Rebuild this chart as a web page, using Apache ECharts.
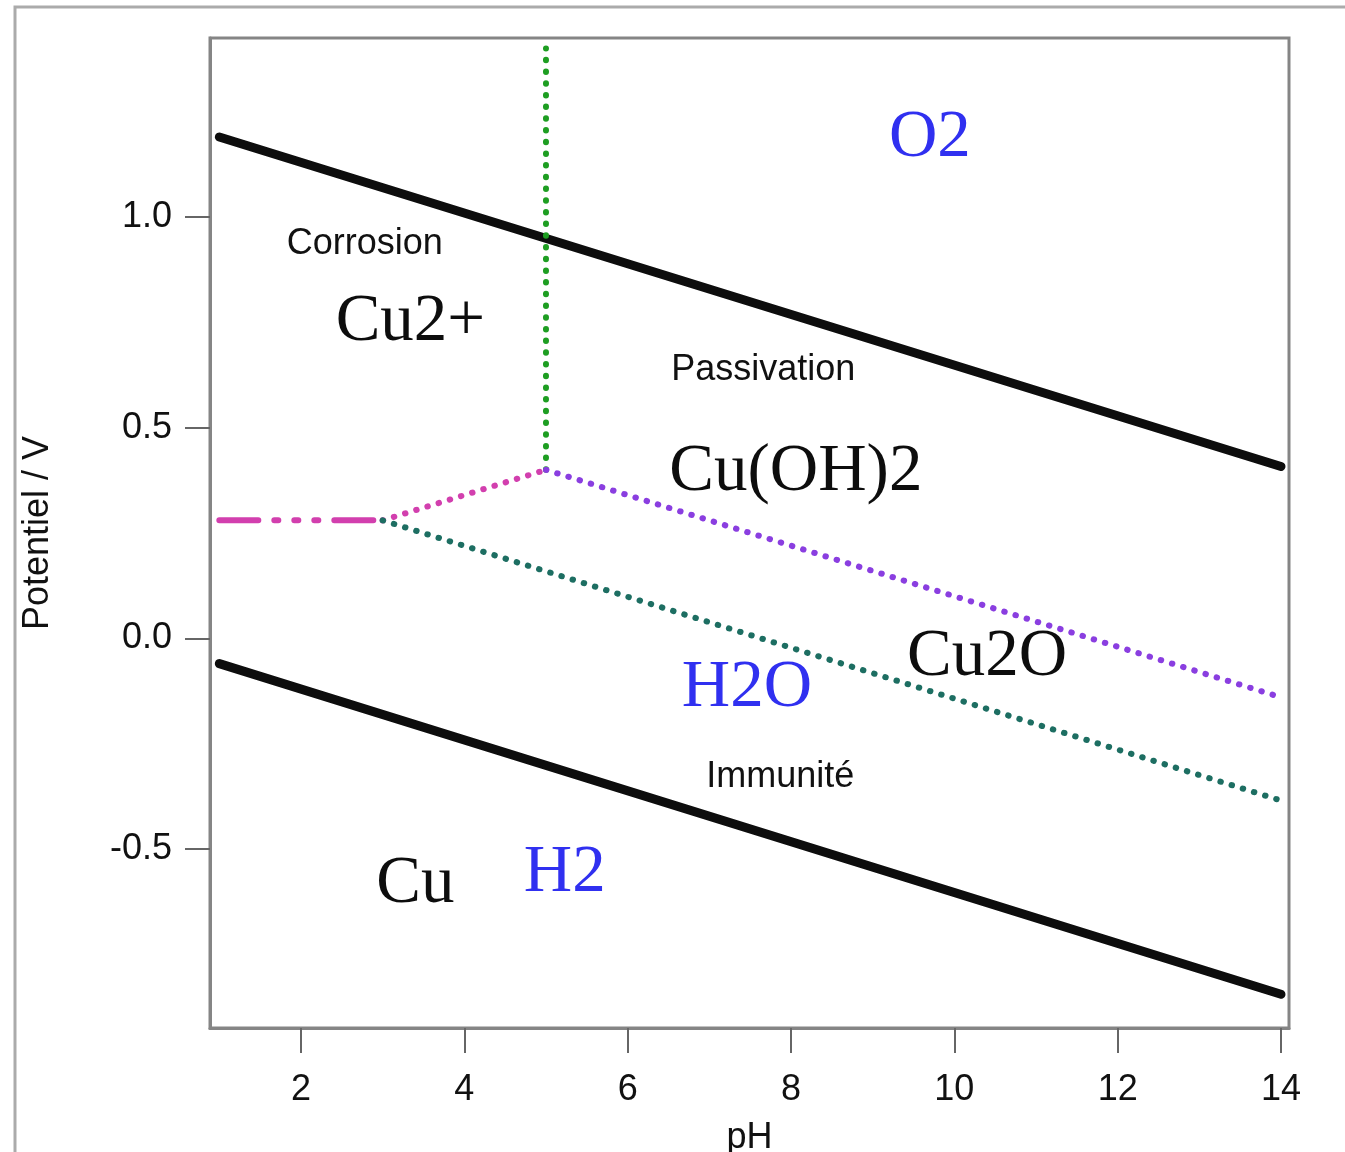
<!DOCTYPE html>
<html>
<head>
<meta charset="utf-8">
<title>Diagramme potentiel-pH du cuivre</title>
<script src="https://cdn.jsdelivr.net/npm/echarts@6/dist/echarts.min.js"></script>
<style>
  html, body { margin: 0; padding: 0; background: #fff; }
  #chart { width: 1345px; height: 1152px; }
</style>
</head>
<body>
<div id="chart"></div>
<script>
// Tick values
const phTicks = [2, 4, 6, 8, 10, 12, 14];
const potentialTicks = [-0.5, 0.0, 0.5, 1.0];

// Water stability limits [pH, E/V]
const oxygenLimit = [[1, 1.19], [14, 0.408]];
const hydrogenLimit = [[1, -0.06], [14, -0.845]];

// Copper boundaries [pH, E/V]
const cu2Cu = [[1, 0.28], [3, 0.28]];
const cu2Cu2o = [[3, 0.28], [5, 0.40]];
const cu2CuOH2 = [[5, 0.40], [5, 1.40]];
const cuOH2Cu2o = [[5, 0.40], [14, -0.14]];
const cu2oCu = [[3, 0.28], [14, -0.385]];

// Species names placed at [pH, E/V]
const copperSpecies = [
  { name: 'Cu2+', value: [3.34, 0.751] },
  { name: 'Cu(OH)2', value: [8.06, 0.395] },
  { name: 'Cu2O', value: [10.40, -0.045] },
  { name: 'Cu', value: [3.40, -0.585] }
];
const waterSpecies = [
  { name: 'O2', value: [9.70, 1.1875] },
  { name: 'H2O', value: [7.46, -0.12] },
  { name: 'H2', value: [5.23, -0.557] }
];
const zoneNames = [
  { name: 'Corrosion', value: [2.78, 0.936] },
  { name: 'Passivation', value: [7.66, 0.637] },
  { name: 'Immunité', value: [7.87, -0.33] }
];

const SANS = '"Liberation Sans", Arial, Helvetica, sans-serif';
const SERIF = '"Liberation Serif", "Times New Roman", serif';

const dotted = [0.5, 11.2];

function boundary(data, color, width, type) {
  return {
    type: 'line',
    data: data,
    symbol: 'none',
    silent: true,
    lineStyle: { color: color, width: width, type: type, cap: 'round', opacity: 1 },
    emphasis: { disabled: true }
  };
}

function labels(data, font, size, color) {
  return {
    type: 'scatter',
    data: data,
    symbolSize: 0,
    silent: true,
    z: 5,
    itemStyle: { opacity: 1 },
    label: {
      show: true,
      position: 'inside',
      formatter: '{b}',
      fontFamily: font,
      fontSize: size,
      color: color,
      opacity: 1
    },
    emphasis: { disabled: true }
  };
}

const chart = echarts.init(document.getElementById('chart'), null, { renderer: 'canvas' });

chart.setOption({
  animation: false,
  backgroundColor: '#ffffff',
  graphic: [{
    type: 'rect',
    shape: { x: 15, y: 7, width: 1400, height: 1300 },
    style: { fill: 'none', stroke: '#ababab', lineWidth: 3 },
    silent: true,
    z: -10
  }],
  grid: {
    left: 210, right: 56, top: 38, bottom: 124,
    outerBoundsMode: 'none',
    containLabel: false,
    show: true,
    borderColor: '#858585',
    borderWidth: 3,
    backgroundColor: 'transparent'
  },
  xAxis: {
    type: 'value',
    min: 0.886,
    max: 14.098,
    name: 'pH',
    nameLocation: 'middle',
    nameGap: 92,
    nameTextStyle: { fontFamily: SANS, fontSize: 36, color: '#111' },
    axisLine: { show: true, onZero: false, lineStyle: { color: '#858585', width: 3 } },
    axisTick: {
      show: true, inside: false, length: 25,
      customValues: phTicks,
      lineStyle: { color: '#666', width: 2 }
    },
    axisLabel: {
      customValues: phTicks,
      margin: 44,
      fontFamily: SANS, fontSize: 36, color: '#111'
    },
    splitLine: { show: false }
  },
  yAxis: {
    type: 'value',
    min: -0.925,
    max: 1.425,
    name: 'Potentiel / V',
    nameLocation: 'middle',
    nameGap: 154,
    nameTextStyle: { fontFamily: SANS, fontSize: 36, color: '#111' },
    axisLine: { show: true, onZero: false, lineStyle: { color: '#858585', width: 3 } },
    axisTick: {
      show: true, inside: false, length: 25,
      customValues: potentialTicks,
      lineStyle: { color: '#666', width: 2 }
    },
    axisLabel: {
      customValues: potentialTicks,
      margin: 38,
      formatter: function (v) { return v.toFixed(1); },
      fontFamily: SANS, fontSize: 36, color: '#111'
    },
    splitLine: { show: false }
  },
  series: [
    boundary(oxygenLimit, '#0d0d0d', 9, 'solid'),
    boundary(hydrogenLimit, '#0d0d0d', 9, 'solid'),
    boundary(cu2CuOH2, '#1e9e22', 6, dotted),
    boundary(cu2Cu, '#d23fae', 6, [39, 16, 4, 16, 4, 16, 4, 16]),
    boundary(cu2Cu2o, '#d23fae', 6, dotted),
    boundary(cuOH2Cu2o, '#8a3ee0', 6, dotted),
    boundary(cu2oCu, '#1d6e62', 6, dotted),
    labels(copperSpecies, SERIF, 67, '#0d0d0d'),
    labels(waterSpecies, SERIF, 67, '#3030f0'),
    labels(zoneNames, SANS, 36, '#111111')
  ]
});
</script>
</body>
</html>
